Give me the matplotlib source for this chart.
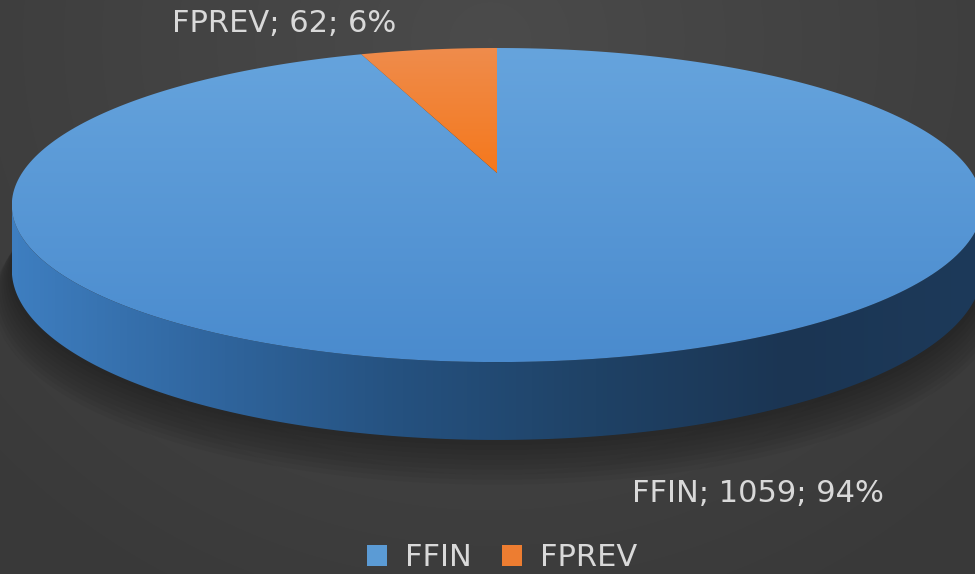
import numpy as np
import matplotlib
matplotlib.use("Agg")
import matplotlib.pyplot as plt
from matplotlib.patches import Polygon, Patch
from matplotlib.colors import LinearSegmentedColormap

labels = ["FFIN", "FPREV"]
values = [1059, 62]
colors = ["#5b9bd5", "#ed7d31"]
label_pos = [(758, 493), (284, 24)]

# gradients used for the "3D" look
top_cmaps = [LinearSegmentedColormap.from_list("t0", ["#66a4dd", "#4a8bce"]),
             LinearSegmentedColormap.from_list("t1", ["#ef8c4c", "#f5781c"])]
side_cmap = LinearSegmentedColormap.from_list(
    "side", ["#3e7ec0", "#30669f", "#25517f", "#1f4266", "#1b3553", "#1d3a5a"])
bg_cmap = LinearSegmentedColormap.from_list("bg", ["#4b4b4b", "#393939"])

plt.rcParams['font.family'] = ['DejaVu Sans']

# perspective of the tilted disc (pixel units)
CX, CY = 497, 173
A, B, K, D = 475, 150.5, 0.204, 62


def proj(theta, r=1.0, h=0.0):
    u = r * np.cos(theta)
    v = r * np.sin(theta)
    w = 1 + K * v
    return CX + A * u / w, CY - B * v / w + h * D / w


def grad_fill(ax, poly, cmap, horizontal=False, z=2):
    xmin, ymin = poly.min(axis=0)
    xmax, ymax = poly.max(axis=0)
    g = np.linspace(0, 1, 256)
    img = g[None, :] if horizontal else g[:, None]
    patch = Polygon(poly, closed=True, facecolor='none', edgecolor='none', zorder=z)
    ax.add_patch(patch)
    im = ax.imshow(img, cmap=cmap, extent=(xmin, xmax, ymax, ymin),
                   aspect='auto', zorder=z, interpolation='bilinear')
    im.set_clip_path(patch)


fig = plt.figure(figsize=(9.75, 5.74), dpi=100)
ax = fig.add_axes([0, 0, 1, 1])

# background
yy, xx = np.mgrid[0:574, 0:975]
dist = np.hypot((xx - 490) / 700.0, (yy - 40) / 650.0)
ax.imshow(dist, cmap=bg_cmap, extent=(0, 975, 574, 0), vmin=0, vmax=1.0,
          aspect='auto', zorder=0)

total = float(sum(values))
fracs = np.array(values) / total
edges = np.deg2rad(90 - 360 * np.concatenate([[0], np.cumsum(fracs)]))

# soft shadow under the pie
full = np.linspace(0, 2 * np.pi, 400)
for i in range(10):
    sx, sy = proj(full, r=1.0 + 0.004 * i, h=1.0 + 0.05 * i)
    ax.add_patch(Polygon(np.c_[sx, sy], closed=True, facecolor='black',
                         edgecolor='none', alpha=0.04, zorder=1))

# front side band
th = np.linspace(np.pi + np.arcsin(K), 2 * np.pi - np.arcsin(K), 300)
xs, ys = proj(th)
xb, yb = proj(th, h=1.0)
band = np.concatenate([np.c_[xs, ys], np.c_[xb, yb][::-1]])
grad_fill(ax, band, side_cmap, horizontal=True, z=2)

# top faces of the slices
for i in range(len(values)):
    arc = np.linspace(edges[i], edges[i + 1], 300)
    ax_, ay_ = proj(arc)
    cx, cy = proj(np.array([0.0]), r=0.0)
    poly = np.concatenate([[[cx[0], cy[0]]], np.c_[ax_, ay_]])
    grad_fill(ax, poly, top_cmaps[i], z=3 + i)

# data labels
for name, val, fr, (lx, ly) in zip(labels, values, fracs, label_pos):
    ax.text(lx, ly, f"{name}; {val}; {fr * 100:.0f}%", ha='center', va='center',
            fontsize=22, color='#d9d9d9', zorder=10)

handles = [Patch(facecolor=c, edgecolor='none', label=l) for c, l in zip(colors, labels)]
fig.legend(handles=handles, loc='lower center', bbox_to_anchor=(0.515, -0.045), ncol=2,
           frameon=False, fontsize=22, labelcolor='#d9d9d9', handlelength=0.65,
           handleheight=0.65, handletextpad=0.6, columnspacing=1.0)

ax.set_xlim(0, 975)
ax.set_ylim(574, 0)
ax.axis('off')
fig.savefig("out.png", dpi=100)
